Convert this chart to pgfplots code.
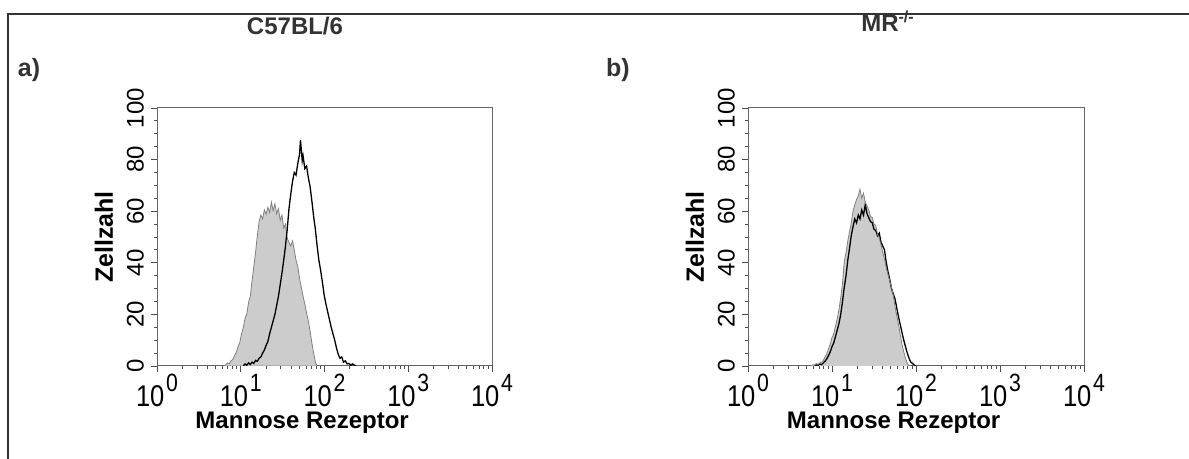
\documentclass[border=0pt]{standalone}
\usepackage{fontspec}
\setmainfont{Liberation Sans}
\usepackage{pgfplots}
\usepackage{pgfplotstable}
\pgfplotsset{compat=1.18}

\definecolor{ctrl}{HTML}{CCCCCC}
\definecolor{ctrledge}{HTML}{808080}
\definecolor{framec}{HTML}{333333}

% decade label: 10 with a large raised exponent
\newcommand{\dec}[1]{\fontsize{15}{16}\selectfont 10\kern1pt\raisebox{7.4pt}{\fontsize{12.5}{13}\selectfont #1}}

% x = log10 of fluorescence, y = cell count
\pgfplotstableread{
x y
0.799 0
0.820 0.5
0.841 1.2
0.862 0.8
0.883 2.0
0.904 2.5
0.925 4.0
0.946 5.2
0.967 7.5
0.988 9.0
1.009 12.5
1.030 14.8
1.051 18.5
1.072 20.2
1.093 24.5
1.114 27.0
1.135 33.0
1.156 38.5
1.177 44.0
1.198 50.5
1.219 56.0
1.240 58.5
1.261 57.0
1.282 60.5
1.303 58.8
1.324 61.5
1.345 59.5
1.366 63.5
1.387 60.2
1.408 62.8
1.429 59.0
1.450 61.0
1.471 56.5
1.492 58.5
1.513 53.5
1.534 55.0
1.555 49.5
1.576 48.0
1.597 46.5
1.618 48.5
1.639 45.0
1.660 41.0
1.681 38.5
1.702 34.0
1.723 30.5
1.744 27.0
1.765 24.0
1.786 20.5
1.807 17.5
1.828 13.5
1.849 9.0
1.870 5.0
1.891 1.5
1.912 0
}\isoA

\pgfplotstableread{
x y
1.030 0
1.051 0.8
1.072 0.3
1.093 1.2
1.114 0.6
1.135 1.5
1.156 1.0
1.177 2.2
1.198 1.8
1.219 3.0
1.240 3.5
1.261 5.0
1.282 6.2
1.303 8.0
1.324 9.5
1.345 12.5
1.366 15.0
1.387 17.5
1.408 20.0
1.429 23.5
1.450 27.0
1.471 31.5
1.492 36.0
1.513 41.0
1.534 46.5
1.555 53.0
1.576 61.0
1.597 66.5
1.618 71.5
1.639 75.0
1.660 74.0
1.681 78.5
1.702 82.0
1.713 87.5
1.723 84.0
1.734 79.5
1.744 81.5
1.765 76.5
1.786 77.5
1.807 73.0
1.828 69.5
1.849 64.0
1.870 58.0
1.891 53.0
1.912 46.5
1.933 41.0
1.954 37.0
1.975 32.5
1.996 27.5
2.017 24.0
2.038 21.0
2.059 18.0
2.080 15.0
2.101 12.5
2.122 10.0
2.143 7.0
2.164 4.5
2.185 3.0
2.206 3.5
2.227 1.5
2.249 2.0
2.270 0.8
2.291 1.0
2.312 0.3
2.333 0.8
2.375 0
}\mrA

\pgfplotstableread{
x y
0.750 0
0.771 0.5
0.792 0.3
0.813 1.0
0.833 0.6
0.854 1.2
0.875 1.5
0.896 2.2
0.917 3.5
0.938 4.8
0.958 6.5
0.979 8.5
1.000 11.0
1.021 12.5
1.042 15.5
1.063 18.5
1.083 22.0
1.104 26.5
1.125 32.0
1.146 40.5
1.167 44.0
1.188 48.5
1.208 52.0
1.229 55.5
1.250 60.0
1.271 62.5
1.292 64.5
1.313 66.0
1.333 68.5
1.354 65.0
1.375 67.0
1.396 63.5
1.417 62.0
1.438 60.5
1.458 58.0
1.479 57.5
1.500 55.0
1.521 54.5
1.542 51.0
1.563 49.5
1.583 47.0
1.604 44.0
1.625 41.5
1.646 38.0
1.667 35.5
1.688 33.0
1.708 30.5
1.729 27.5
1.750 23.0
1.771 19.5
1.792 16.0
1.813 12.0
1.833 8.5
1.854 5.5
1.875 3.0
1.896 1.0
1.917 0
}\isoB

\pgfplotstableread{
x y
0.792 0
0.813 0.4
0.833 0.2
0.854 0.8
0.875 0.5
0.896 1.2
0.917 1.8
0.938 2.8
0.958 4.0
0.979 5.5
1.000 7.5
1.021 9.0
1.042 11.5
1.063 14.0
1.083 16.5
1.104 20.0
1.125 25.0
1.146 30.5
1.167 35.0
1.188 41.0
1.208 45.5
1.229 50.5
1.250 54.0
1.271 57.0
1.292 55.5
1.313 58.5
1.333 57.0
1.354 60.5
1.375 58.5
1.396 62.5
1.417 59.0
1.438 57.5
1.458 56.0
1.479 55.5
1.500 53.0
1.521 52.5
1.542 50.5
1.563 51.5
1.583 48.0
1.604 46.5
1.625 45.0
1.646 40.0
1.667 36.5
1.688 33.5
1.708 30.0
1.729 28.0
1.750 26.0
1.771 22.5
1.792 19.0
1.813 16.0
1.833 13.0
1.854 10.0
1.875 7.5
1.896 5.0
1.917 3.0
1.938 1.5
1.958 1.0
1.979 0.4
2.000 0
}\mrB

\pgfplotsset{
  facs/.style={
    scale only axis,
    width=167.5pt, height=129pt,
    xmin=0, xmax=4, ymin=0, ymax=100,
    xtick={0,1,2,3,4},
    xticklabels={\dec{0},\dec{1},\dec{2},\dec{3},\dec{4}},
    minor xtick={0.301,0.477,0.602,0.699,0.778,0.845,0.903,0.954,
      1.301,1.477,1.602,1.699,1.778,1.845,1.903,1.954,
      2.301,2.477,2.602,2.699,2.778,2.845,2.903,2.954,
      3.301,3.477,3.602,3.699,3.778,3.845,3.903,3.954},
    ytick={0,20,40,60,80,100},
    minor y tick num=3,
    tick pos=left,
    tick align=outside,
    major tick length=3pt,
    minor tick length=1.5pt,
    axis line style={draw=black!60, line width=0.5pt},
    every tick/.style={black!70, line width=0.4pt},
    xticklabel style={xscale=0.85, inner sep=0pt, yshift=-1pt},
    yticklabel style={font=\fontsize{12}{13}\selectfont, rotate=90, anchor=south},
    /pgf/number format/assume math mode=true,
    xlabel={Mannose Rezeptor},
    ylabel={Zellzahl},
    label style={font=\fontsize{12}{14}\selectfont\bfseries},
    xlabel style={xshift=-11.2pt, yshift=-1.5pt, inner sep=1pt},
    ylabel style={font=\fontsize{12.5}{14}\selectfont\bfseries},
  }
}

\begin{document}
\begin{tikzpicture}
  \path[use as bounding box] (0,0) rectangle (594.5pt,229.5pt);
  \draw[framec, line width=1pt] (4pt,0) -- (4pt,222.5pt) -- (594.5pt,222.5pt);

  \node[framec, font=\fontsize{12}{14}\selectfont\bfseries] at (147.5pt,216.5pt) {C57BL/6};
  \node[framec, font=\fontsize{12}{14}\selectfont\bfseries] at (444pt,219pt) {MR\textsuperscript{-/-}};
  \node[framec, font=\fontsize{12.5}{14}\selectfont\bfseries] at (14.5pt,194.5pt) {a)};
  \node[framec, font=\fontsize{12.5}{14}\selectfont\bfseries] at (309pt,194.5pt) {b)};

  \begin{axis}[facs, anchor=south west, at={(78.5pt,46.5pt)}]
    \addplot[fill=ctrl, draw=ctrledge, line width=0.4pt] table {\isoA} \closedcycle;
    \addplot[black, line width=0.65pt] table {\mrA};
  \end{axis}

  \begin{axis}[facs, width=168pt, anchor=south west, at={(374pt,46.5pt)}]
    \addplot[fill=ctrl, draw=none] table {\isoB} \closedcycle;
    \addplot[black, line width=0.65pt] table {\mrB};
    \addplot[ctrledge, line width=0.4pt] table {\isoB};
  \end{axis}
\end{tikzpicture}
\end{document}
